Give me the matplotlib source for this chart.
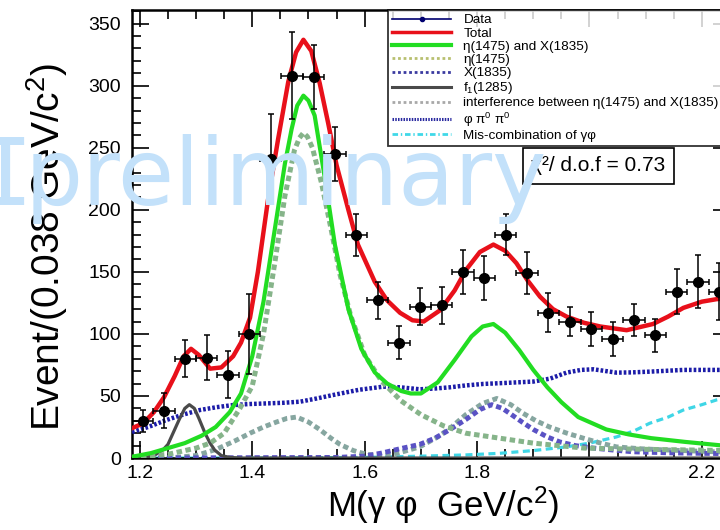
import numpy as np
import matplotlib
matplotlib.use('Agg')
import matplotlib.pyplot as plt
from matplotlib.lines import Line2D
from matplotlib.ticker import MultipleLocator, FuncFormatter

plt.rcParams['font.family'] = ['Liberation Sans', 'DejaVu Sans']
plt.rcParams['mathtext.fontset'] = 'custom'
plt.rcParams['mathtext.rm'] = 'Liberation Sans'
plt.rcParams['mathtext.it'] = 'Liberation Sans'

# Data points (bin width 0.038 GeV/c^2)
bin_width = 0.038
data_x = [1.205, 1.243, 1.281, 1.319, 1.357, 1.395, 1.433, 1.471, 1.509, 1.547,
          1.585, 1.623, 1.661, 1.699, 1.737, 1.775, 1.813, 1.851, 1.889, 1.927,
          1.965, 2.003, 2.041, 2.079, 2.117, 2.155, 2.193, 2.231]
data_y = [30, 38, 80, 81, 67, 100, 241, 308, 307, 245,
          180, 127, 93, 122, 123, 150, 145, 180, 149, 117,
          110, 104, 96, 111, 99, 134, 142, 134]
data_err = [9, 14, 15, 18, 19, 32, 36, 35, 26, 22,
            17, 15, 13.5, 15, 15, 18, 17.5, 16.5, 17, 15.6,
            12, 13.4, 13.4, 13, 13.4, 18, 21.5, 23]

# Fit components
total_x = [1.186, 1.206, 1.225, 1.243, 1.262, 1.278, 1.291, 1.305, 1.325, 1.345,
           1.366, 1.38, 1.396, 1.41, 1.428, 1.446, 1.464, 1.478, 1.491, 1.505,
           1.52, 1.535, 1.55, 1.571, 1.588, 1.618, 1.64, 1.663, 1.685, 1.705,
           1.734, 1.76, 1.781, 1.805, 1.829, 1.85, 1.87, 1.89, 1.912, 1.935,
           1.959, 1.99, 2.019, 2.066, 2.113, 2.14, 2.167, 2.2, 2.226, 2.25]
total_y = [24, 28, 37, 49, 66, 82, 88, 83, 72, 73,
           82, 93, 113, 150, 208, 257, 303, 327, 337, 328,
           302, 270, 236, 200, 172, 142, 127, 117, 111, 110,
           119, 135, 152, 166, 172, 167, 157, 143, 130, 120,
           114, 109, 106, 103, 108, 114, 121, 126, 128, 129]

sig_x = [1.186, 1.22, 1.25, 1.28, 1.31, 1.335, 1.36, 1.38, 1.40, 1.42,
         1.44, 1.458, 1.47, 1.48, 1.491, 1.50, 1.511, 1.529, 1.547, 1.571,
         1.594, 1.618, 1.64, 1.665, 1.682, 1.70, 1.73, 1.76, 1.79, 1.81,
         1.829, 1.85, 1.875, 1.90, 1.925, 1.95, 1.98, 2.03, 2.07, 2.11,
         2.17, 2.25]
sig_y = [1, 4, 8, 12, 18, 25, 37, 52, 82, 126,
         184, 237, 265, 284, 292, 288, 276, 226, 172, 120,
         88, 69, 60, 54, 52, 52, 61, 79, 98, 106,
         108, 101, 87, 71, 57, 45, 33, 23, 19, 16,
         13, 9.5]

eta_x = [1.186, 1.25, 1.30, 1.325, 1.35, 1.378, 1.40, 1.42, 1.44, 1.458,
         1.475, 1.484, 1.491, 1.498, 1.507, 1.523, 1.54, 1.556, 1.575, 1.60,
         1.63, 1.665, 1.70, 1.74, 1.78, 1.84, 1.90, 1.99, 2.10, 2.25]
eta_y = [0.5, 3, 8, 12, 20, 40, 58, 100, 157, 211,
         248, 258, 262, 259, 250, 222, 185, 148, 115, 83,
         62, 46, 35, 26, 20, 16, 12, 8, 7, 6]

x1835_x = [1.186, 1.55, 1.60, 1.63, 1.663, 1.698, 1.725, 1.752, 1.78, 1.805,
           1.826, 1.845, 1.858, 1.88, 1.90, 1.925, 1.947, 1.975, 2.007, 2.04,
           2.078, 2.14, 2.196, 2.25]
x1835_y = [0, 0.5, 1.5, 4, 7.5, 11, 16, 23, 31, 39,
           43, 40, 36, 29, 23, 17, 13, 10, 8, 6.5,
           5, 4.2, 3.8, 3.5]

f1_x = [1.186, 1.21, 1.225, 1.241, 1.25, 1.259, 1.27, 1.28, 1.288, 1.297,
        1.305, 1.316, 1.325, 1.333, 1.345, 1.36, 1.38, 2.25]
f1_y = [0, 0.5, 2, 6.5, 11, 20, 31, 40, 43, 40,
        32, 20, 12, 6.5, 2, 0.5, 0, 0]

intf_x = [1.186, 1.25, 1.30, 1.336, 1.37, 1.396, 1.42, 1.443, 1.462, 1.479,
          1.50, 1.52, 1.54, 1.556, 1.58, 1.603, 1.63, 1.66, 1.698, 1.73,
          1.752, 1.78, 1.81, 1.835, 1.86, 1.882, 1.905, 1.929, 1.96, 1.989,
          2.02, 2.048, 2.09, 2.137, 2.226, 2.25]
intf_y = [0, 0, 2, 7, 14, 20, 25, 29, 32, 33,
          29, 23, 16, 11, 6, 3, 2, 4, 9, 17,
          24, 35, 44, 48, 43, 36, 30, 25, 20, 16,
          12, 9, 7.5, 6.5, 5, 5]

phipp_x = [1.186, 1.215, 1.247, 1.277, 1.307, 1.337, 1.366, 1.395, 1.425, 1.455,
           1.485, 1.515, 1.544, 1.59, 1.633, 1.663, 1.698, 1.725, 1.752, 1.78,
           1.811, 1.85, 1.90, 1.93, 1.959, 1.985, 2.007, 2.03, 2.048, 2.075,
           2.107, 2.167, 2.226, 2.25]
phipp_y = [21, 25, 30.6, 35, 38.7, 41, 42.7, 43.5, 44, 44.5,
           45.4, 48, 50.8, 55, 57.5, 57, 55.4, 56, 57, 58.5,
           59.7, 60.5, 61.6, 64, 68.8, 71, 71.5, 70, 68.8, 69,
           69.6, 71, 71, 71]

mis_x = [1.186, 1.40, 1.60, 1.70, 1.78, 1.84, 1.90, 1.959, 2.00, 2.048,
         2.08, 2.107, 2.14, 2.167, 2.20, 2.226, 2.25]
mis_y = [0, 0, 0.5, 1.5, 2.5, 3.8, 6, 9, 12, 17,
         22, 28, 33, 38.7, 43, 46.8, 49]

legend_labels = ['Data', 'Total', 'η(1475) and X(1835)', 'η(1475)', 'X(1835)',
                 'f$_1$(1285)', 'interference between η(1475) and X(1835)',
                 'φ π$^0$ π$^0$', 'Mis-combination of γφ']

fig = plt.figure(figsize=(7.2, 5.3), dpi=100)
ax = fig.add_axes([0.1833, 0.1358, 0.8306, 0.8453])

sq = (0, (1.1, 0.7))
ax.plot(mis_x, mis_y, color='#3fd6e6', lw=2.3, ls=(0, (2.2, 1.4)), zorder=2)
ax.plot(phipp_x, phipp_y, color='#1c1ca8', lw=3.2, ls=(0, (0.6, 0.45)), zorder=3)
ax.plot(intf_x, intf_y, color='#86a6a0', lw=3.5, ls=sq, zorder=3)
ax.plot(x1835_x, x1835_y, color='#5a52c4', lw=3.5, ls=sq, zorder=3)
ax.plot(f1_x, f1_y, color='#4a4a4a', lw=2.3, zorder=3)
ax.plot(eta_x, eta_y, color='#86b48a', lw=3.6, ls=sq, zorder=3)
ax.plot(sig_x, sig_y, color='#22dd22', lw=3, zorder=4)
ax.plot(total_x, total_y, color='#e8101a', lw=3.2, zorder=5)

ax.errorbar(data_x, data_y, yerr=data_err, xerr=bin_width / 2, fmt='o', color='black',
            markersize=7, elinewidth=1.1, capsize=2.5, capthick=1.1, zorder=6)

ax.set_xlim(1.186, 2.25)
ax.set_ylim(0, 361)
ax.xaxis.set_major_locator(MultipleLocator(0.2))
ax.xaxis.set_minor_locator(MultipleLocator(0.05))
ax.yaxis.set_major_locator(MultipleLocator(50))
ax.yaxis.set_minor_locator(MultipleLocator(10))
ax.xaxis.set_major_formatter(FuncFormatter(lambda v, p: '%g' % round(v, 2)))
ax.tick_params(which='both', direction='in', top=True, right=True, width=1.2, labelsize=14)
ax.tick_params(which='major', length=12)
ax.tick_params(which='minor', length=6.5)
ax.tick_params(axis='y', pad=8)
ax.tick_params(axis='x', pad=5)
for s in ax.spines.values():
    s.set_linewidth(1.8)

handles = [
    Line2D([], [], color='#000070', lw=1.2, marker='o', markersize=3),
    Line2D([], [], color='#e8101a', lw=2.5),
    Line2D([], [], color='#22dd22', lw=3),
    Line2D([], [], color='#b8c070', lw=2, ls=(0, (1, 1))),
    Line2D([], [], color='#3a3aa0', lw=2, ls=(0, (1, 1))),
    Line2D([], [], color='#4a4a4a', lw=2.2),
    Line2D([], [], color='#a8a8a8', lw=2, ls=(0, (1, 1))),
    Line2D([], [], color='#2a2aa0', lw=2.2, ls=(0, (0.5, 0.4))),
    Line2D([], [], color='#40d8e8', lw=2, ls=(0, (2, 1, 0.5, 1))),
]
leg = ax.legend(handles, legend_labels, loc='upper left', bbox_to_anchor=(0.428, 1.0),
                fontsize=9.7, handlelength=4.4, labelspacing=0.06, handletextpad=0.9,
                borderpad=0.3, borderaxespad=0, frameon=True, fancybox=False)
leg.get_frame().set_edgecolor('black')
leg.get_frame().set_linewidth(1.3)
leg.set_zorder(8)

ax.text(0.668, 0.652, 'χ²/ d.o.f = 0.73', transform=ax.transAxes, fontsize=15,
        ha='left', va='center', zorder=9,
        bbox=dict(boxstyle='square,pad=0.4', fc='white', ec='black', lw=1.2))

fig.text(443 / 720, 1 - 505 / 530, 'M(γ φ  GeV/c$^2$)', fontsize=25, ha='center', va='center')
fig.text(47 / 720, 1 - 247 / 530, 'Event/(0.038 GeV/c$^2$)', fontsize=28, rotation=90,
         ha='center', va='center')

# watermark
wm = '#c3e1fa'
fig.text(25 / 720, 1 - 205 / 530, 'preliminary', fontsize=66, color=wm,
         family='DejaVu Sans', ha='left', va='baseline', zorder=20)
fig.text(6 / 720, 1 - 205 / 530, 'I', fontsize=66, color=wm,
         family='DejaVu Sans Mono', ha='center', va='baseline', zorder=20)

fig.savefig('out.png', dpi=100)
